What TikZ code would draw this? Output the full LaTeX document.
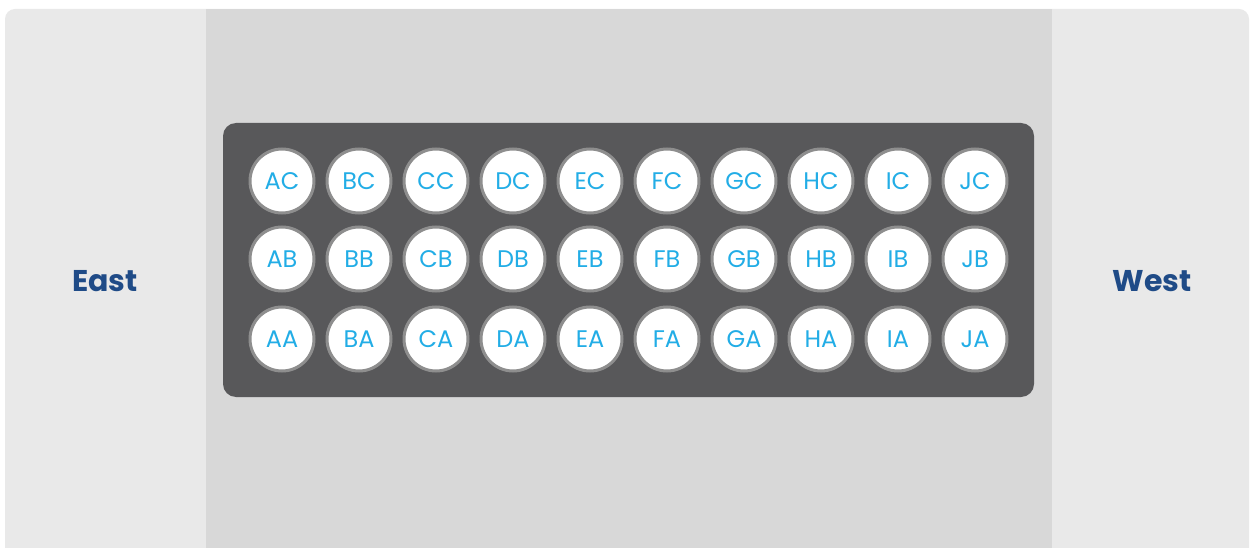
\documentclass[tikz,border=0pt]{standalone}
\usepackage{fontspec}
\setmainfont{Poppins}
\definecolor{sidegray}{HTML}{E9E9E9}
\definecolor{midgray}{HTML}{D8D8D8}
\definecolor{darkpanel}{HTML}{58585A}
\definecolor{ringgray}{HTML}{8E8E8E}
\definecolor{labelcyan}{HTML}{22ADE6}
\definecolor{dirblue}{HTML}{1F4B87}
\tikzset{
  slot/.style={circle, fill=white, draw=ringgray, line width=3pt, minimum size=64pt, inner sep=0pt,
    text=labelcyan, font=\fontsize{24}{24}\selectfont},
  dirlabel/.style={text=dirblue, font=\fontsize{30}{30}\selectfont\bfseries}
}
\begin{document}
\begin{tikzpicture}[x=1pt,y=-1pt]
\useasboundingbox (0,0) rectangle (1251,548);
\fill[white] (0,0) rectangle (1251,548);
\begin{scope}
\clip (0,0) rectangle (1251,548);
\fill[sidegray, rounded corners=10pt] (5,9) rectangle (1249,570);
\fill[midgray] (206,9) rectangle (1052,548);
\end{scope}
\fill[darkpanel, rounded corners=13pt] (223,123) rectangle (1034,397);
\node[dirlabel] (east) at (105,281) {East};
\node[dirlabel] (west) at (1152,281) {West};
\foreach \c [count=\i from 0] in {A,B,C,D,E,F,G,H,I,J}{
  \foreach \r/\y in {C/181,B/259,A/339}{
    \node[slot] (\c\r) at ({282+77*\i},\y) {\c\r};
  }
}
\end{tikzpicture}
\end{document}
